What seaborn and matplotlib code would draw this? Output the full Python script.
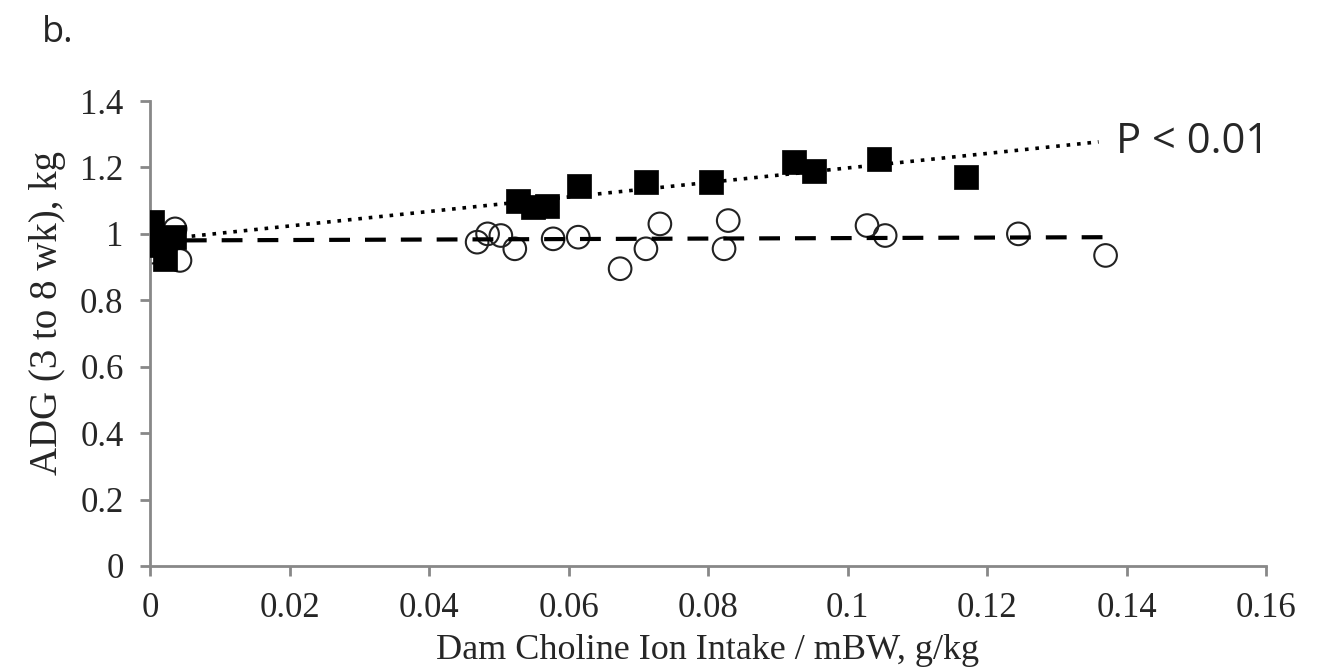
import pandas as pd
import matplotlib.pyplot as plt
import seaborn as sns

# filled squares
sq_x = [0.0003, 0.0003, 0.0022, 0.0034, 0.0528, 0.0549, 0.0569, 0.0615, 0.0711,
        0.0804, 0.0923, 0.0952, 0.1045, 0.117]
sq_y = [1.035, 0.965, 0.925, 0.99, 1.10, 1.08, 1.085, 1.145, 1.155,
        1.155, 1.215, 1.19, 1.225, 1.172]

# open circles
ci_x = [0.0003, 0.0036, 0.0043, 0.0469, 0.0484, 0.0503, 0.0523, 0.0578, 0.0614,
        0.0674, 0.0711, 0.0731, 0.0823, 0.0829, 0.1028, 0.1054, 0.1245, 0.137]
ci_y = [0.945, 1.015, 0.92, 0.975, 1.0, 0.995, 0.955, 0.985, 0.99,
        0.895, 0.955, 1.03, 0.955, 1.04, 1.025, 0.995, 1.0, 0.935]

# trend lines (end points)
dot_x = [0.0, 0.136]
dot_y = [0.98, 1.277]
dash_x = [0.0, 0.1375]
dash_y = [0.98, 0.99]

x_ticks = [0, 0.02, 0.04, 0.06, 0.08, 0.1, 0.12, 0.14, 0.16]
x_labels = ["0", "0.02", "0.04", "0.06", "0.08", "0.1", "0.12", "0.14", "0.16"]
y_ticks = [0, 0.2, 0.4, 0.6, 0.8, 1.0, 1.2, 1.4]
y_labels = ["0", "0.2", "0.4", "0.6", "0.8", "1", "1.2", "1.4"]

sns.set_style("white")
plt.rcParams['font.family'] = ['Liberation Serif', 'DejaVu Serif']

fig = plt.figure(figsize=(13.22, 6.69), dpi=100)
ax = fig.add_axes([150 / 1322, 1 - 566 / 669, (1266 - 150) / 1322, (566 - 101) / 669])

df_sq = pd.DataFrame({"x": sq_x, "y": sq_y})
df_ci = pd.DataFrame({"x": ci_x, "y": ci_y})

sns.lineplot(x=dash_x, y=dash_y, ax=ax, color="black", linewidth=3.0,
             linestyle=(0, (5, 3.6)), zorder=3)
sns.lineplot(x=dot_x, y=dot_y, ax=ax, color="black", linewidth=2.6,
             linestyle=(0, (1, 1.9)), zorder=3)
sns.scatterplot(data=df_ci, x="x", y="y", ax=ax, marker="o", s=265,
                facecolor="none", edgecolor="#222222", linewidth=1.5, zorder=2)
sns.scatterplot(data=df_sq, x="x", y="y", ax=ax, marker="s", s=290,
                color="black", edgecolor="black", linewidth=0.5, zorder=4)

ax.set_xlim(0, 0.16)
ax.set_ylim(0, 1.4)
ax.set_xticks(x_ticks)
ax.set_xticklabels(x_labels)
ax.set_yticks(y_ticks)
ax.set_yticklabels(y_labels)
ax.tick_params(axis="both", labelsize=25, direction="out", length=7, width=2,
               color="#888888", pad=12, left=True, bottom=True)
ax.set_xlabel("Dam Choline Ion Intake / mBW, g/kg", fontsize=26, labelpad=6)
ax.set_ylabel("ADG (3 to 8 wk), kg", fontsize=28)
ax.yaxis.set_label_coords(-0.075, (566 - 313) / 465)

for side in ["top", "right"]:
    ax.spines[side].set_visible(False)
for side in ["left", "bottom"]:
    ax.spines[side].set_color("#888888")
    ax.spines[side].set_linewidth(2)
ax.grid(False)

ax.text(0.1385, 1.277, "P < 0.01", fontsize=30, family=["Open Sans", "DejaVu Sans"],
        ha="left", va="center")
fig.text(42 / 1322, 1 - 42 / 669, "b.", fontsize=26, family=["Open Sans", "DejaVu Sans"],
         ha="left", va="baseline")

fig.savefig("out.png", dpi=100)
